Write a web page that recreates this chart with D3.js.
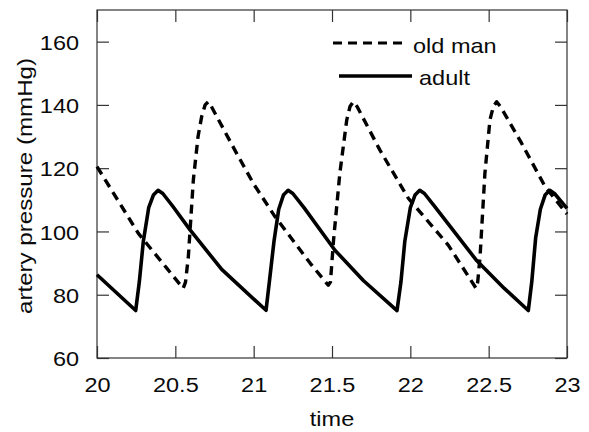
<!DOCTYPE html>
<html>
<head>
<meta charset="utf-8">
<script src="https://cdn.jsdelivr.net/npm/d3@7"></script>
<style>
  body { margin: 0; background: #fff; }
  text { font-family: "Liberation Sans", Arial, sans-serif; fill: #0a0a0a; }
</style>
</head>
<body>
<div id="chart"></div>
<script>
// adult (solid) curve
const adultTime = [20.00, 20.247, 20.27, 20.296, 20.33, 20.36, 20.39, 20.42, 20.48, 20.594, 20.796, 21.008, 21.079,
  21.10, 21.13, 21.16, 21.19, 21.22, 21.25, 21.32, 21.52, 21.70, 21.915,
  21.94, 21.965, 22.00, 22.03, 22.06, 22.09, 22.16, 22.42, 22.60, 22.753,
  22.775, 22.80, 22.83, 22.86, 22.89, 22.92, 23.00];
const adultValues = [86.3, 75, 84, 97, 107.5, 111.5, 113, 112, 108.2, 100.5, 88, 78.3, 75.1,
  84, 97, 107, 111.5, 113, 112, 107.6, 94, 84.5, 75,
  84, 97, 107.5, 111.5, 113, 112, 107.6, 91, 82, 75,
  84, 98, 107, 111.5, 113, 112, 107.3];

// old man (dashed) curve
const oldTime = [20.00, 20.264, 20.445, 20.55, 20.565, 20.583, 20.615, 20.645, 20.668, 20.69, 20.71, 20.73,
  20.88, 21.00, 21.136, 21.36, 21.476, 21.49, 21.51, 21.55, 21.594, 21.615, 21.636, 21.66,
  21.806, 21.987, 22.242, 22.42, 22.43, 22.445, 22.476, 22.508, 22.53, 22.551, 22.575,
  22.71, 22.86, 23.00];
const oldValues = [120.5, 99.4, 88.4, 82, 84, 92, 116.3, 130, 136.3, 140, 141, 139.5,
  125.7, 115, 104.7, 90, 83, 84, 97.3, 118.4, 135.2, 139.5, 141, 139.5,
  125.7, 110.5, 95.7, 82, 84, 92, 118.4, 135.2, 139.5, 141, 139.5,
  127.9, 114.2, 105.5];

const xTicks = [20, 20.5, 21, 21.5, 22, 22.5, 23];
const yTicks = [60, 80, 100, 120, 140, 160];
const legendLabels = ["old man", "adult"];

const width = 589, height = 432;
const margin = { left: 97, right: 22, top: 10, bottom: 74 };
const innerW = width - margin.left - margin.right;
const innerH = height - margin.top - margin.bottom;

const svg = d3.select("#chart").append("svg")
  .attr("width", width)
  .attr("height", height);

const g = svg.append("g").attr("transform", `translate(${margin.left},${margin.top})`);

const x = d3.scaleLinear().domain([20, 23]).range([0, innerW]);
const y = d3.scaleLinear().domain([60, 170]).range([innerH, 0]);

const tickLen = 12;
const stretch = "scale(1.12,1)";

// frame
g.append("rect")
  .attr("width", innerW).attr("height", innerH)
  .attr("fill", "none").attr("stroke", "#333").attr("stroke-width", 1.2);

const axBottom = g.append("g")
  .attr("transform", `translate(0,${innerH})`)
  .call(d3.axisBottom(x).tickValues(xTicks).tickSize(-tickLen).tickSizeOuter(0).tickPadding(tickLen + 7).tickFormat(d3.format("")));
const axTop = g.append("g")
  .call(d3.axisTop(x).tickValues(xTicks).tickSize(-tickLen).tickSizeOuter(0).tickFormat(""));
const axLeft = g.append("g")
  .call(d3.axisLeft(y).tickValues(yTicks).tickSize(-tickLen).tickSizeOuter(0).tickPadding(tickLen + 4));
const axRight = g.append("g")
  .attr("transform", `translate(${innerW},0)`)
  .call(d3.axisRight(y).tickValues(yTicks).tickSize(-tickLen).tickSizeOuter(0).tickFormat(""));

[axBottom, axTop, axLeft, axRight].forEach(a => {
  a.select(".domain").remove();
  a.selectAll("line").attr("stroke", "#333").attr("stroke-width", 1.2);
});
axBottom.selectAll("text").attr("font-size", 21).attr("transform", stretch).attr("fill", "#0a0a0a");
axLeft.selectAll("text").attr("font-size", 21).attr("dy", "0.36em").attr("transform", stretch).attr("fill", "#0a0a0a");

// curves
const adult = adultTime.map((t, i) => ({ t, v: adultValues[i] }));
const oldMan = oldTime.map((t, i) => ({ t, v: oldValues[i] }));

const line = d3.line()
  .x(d => x(d.t))
  .y(d => y(d.v));

g.append("path")
  .datum(oldMan)
  .attr("d", line)
  .attr("fill", "none")
  .attr("stroke", "#000")
  .attr("stroke-width", 3.4)
  .attr("stroke-linejoin", "round")
  .attr("stroke-dasharray", "9,6");

g.append("path")
  .datum(adult)
  .attr("d", line)
  .attr("fill", "none")
  .attr("stroke", "#000")
  .attr("stroke-width", 3.6)
  .attr("stroke-linejoin", "round");

// legend
const legend = svg.append("g");
legend.append("line")
  .attr("x1", 333).attr("x2", 408).attr("y1", 43).attr("y2", 43)
  .attr("stroke", "#000").attr("stroke-width", 3.2).attr("stroke-dasharray", "9,6");
legend.append("line")
  .attr("x1", 339).attr("x2", 412).attr("y1", 76).attr("y2", 76)
  .attr("stroke", "#000").attr("stroke-width", 3.6);
legend.append("text")
  .attr("transform", `translate(413,53) ${stretch}`)
  .attr("font-size", 21)
  .text(legendLabels[0]);
legend.append("text")
  .attr("transform", `translate(419,85) ${stretch}`)
  .attr("font-size", 21)
  .text(legendLabels[1]);

// axis titles
svg.append("text")
  .attr("transform", `translate(${margin.left + innerW / 2},426) ${stretch}`)
  .attr("text-anchor", "middle")
  .attr("font-size", 21)
  .text("time");

svg.append("text")
  .attr("transform", "translate(32,186) rotate(-90) scale(1.15,1)")
  .attr("text-anchor", "middle")
  .attr("font-size", 21)
  .text("artery pressure (mmHg)");
</script>
</body>
</html>
